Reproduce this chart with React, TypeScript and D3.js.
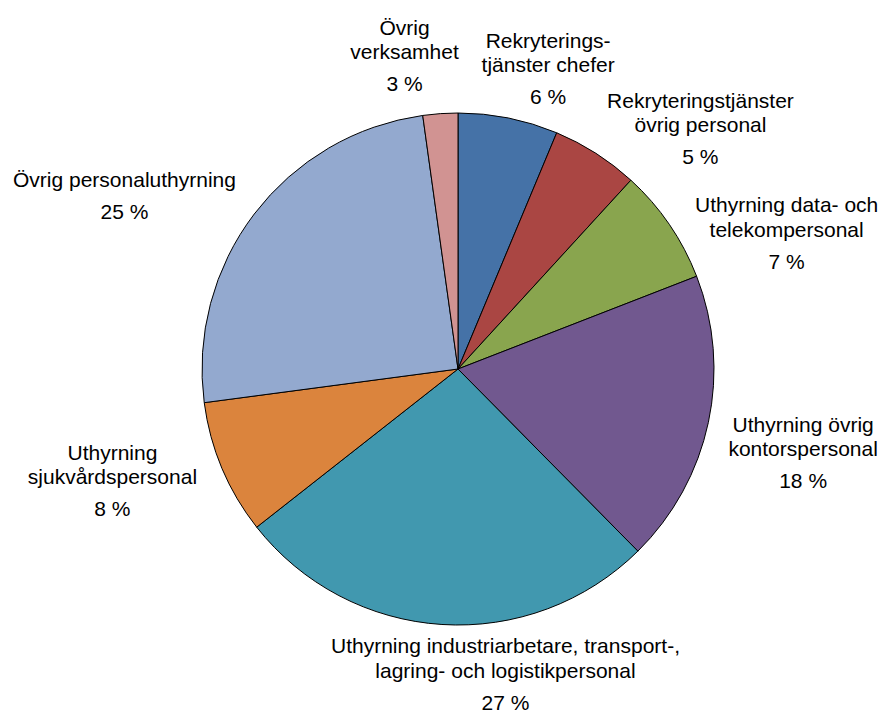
import { useEffect, useRef } from "react";
import * as d3 from "d3";

const names: string[][] = [
  ["Rekryterings-", "tjänster chefer"],
  ["Rekryteringstjänster", "övrig personal"],
  ["Uthyrning data- och", "telekompersonal"],
  ["Uthyrning övrig", "kontorspersonal"],
  ["Uthyrning industriarbetare, transport-,", "lagring- och logistikpersonal"],
  ["Uthyrning", "sjukvårdspersonal"],
  ["Övrig personaluthyrning"],
  ["Övrig", "verksamhet"],
];
const shares: number[] = [6.3, 5.5, 7.3, 18.5, 26.8, 8.5, 24.9, 2.2];
const shareLabels: string[] = ["6 %", "5 %", "7 %", "18 %", "27 %", "8 %", "25 %", "3 %"];
const colors: string[] = [
  "#4572A7",
  "#AA4643",
  "#89A54E",
  "#71588F",
  "#4198AF",
  "#DB843D",
  "#93A9CF",
  "#D19392",
];

// hand-tuned label nudges relative to the mid-angle anchor
const labelNudge: [number, number][] = [
  [29, 7],
  [75, 24],
  [72, 42],
  [41, 21],
  [67, -3],
  [-59, -7],
  [-86, 17],
  [-32, -1],
];

const App = () => {
  const svgRef = useRef<SVGSVGElement | null>(null);

  useEffect(() => {
    const svg = d3.select(svgRef.current);
    svg.selectAll("*").remove();

    const width = 883;
    const height = 713;
    const cx = 458;
    const cy = 369;
    const radius = 256;
    const labelRadius = radius + 55;
    const lineGap = 24.5;
    const pctGap = 32;

    svg.attr("width", width).attr("height", height);

    const pie = d3
      .pie<number>()
      .sort(null)
      .value((d) => d);
    const arcs = pie(shares);

    const arc = d3
      .arc<d3.PieArcDatum<number>>()
      .innerRadius(0)
      .outerRadius(radius);

    const g = svg.append("g").attr("transform", `translate(${cx},${cy})`);

    g.selectAll("path")
      .data(arcs)
      .join("path")
      .attr("d", arc)
      .attr("fill", (d, i) => colors[i])
      .attr("stroke", "#000")
      .attr("stroke-width", 1)
      .attr("stroke-linejoin", "round");

    // Labels
    arcs.forEach((d, i) => {
      const mid = (d.startAngle + d.endAngle) / 2;
      const px = labelRadius * Math.sin(mid) + labelNudge[i][0];
      const py = -labelRadius * Math.cos(mid) + labelNudge[i][1];
      const lines = names[i];
      const span = lineGap * (lines.length - 1) + pctGap;
      const firstBase = py - span / 2 + 5;

      const t = g
        .append("text")
        .attr("text-anchor", "middle")
        .attr("font-family", "'Liberation Sans', Arial, sans-serif")
        .attr("font-size", 21)
        .attr("fill", "#000");

      lines.forEach((line, j) => {
        t.append("tspan")
          .attr("x", px)
          .attr("y", firstBase + j * lineGap)
          .text(line);
      });
      t.append("tspan")
        .attr("x", px)
        .attr("y", firstBase + (lines.length - 1) * lineGap + pctGap)
        .text(shareLabels[i]);
    });
  }, []);

  return (
    <svg
      ref={svgRef}
      style={{ position: "absolute", left: 0, top: 0, display: "block" }}
    ></svg>
  );
};

export default App;
